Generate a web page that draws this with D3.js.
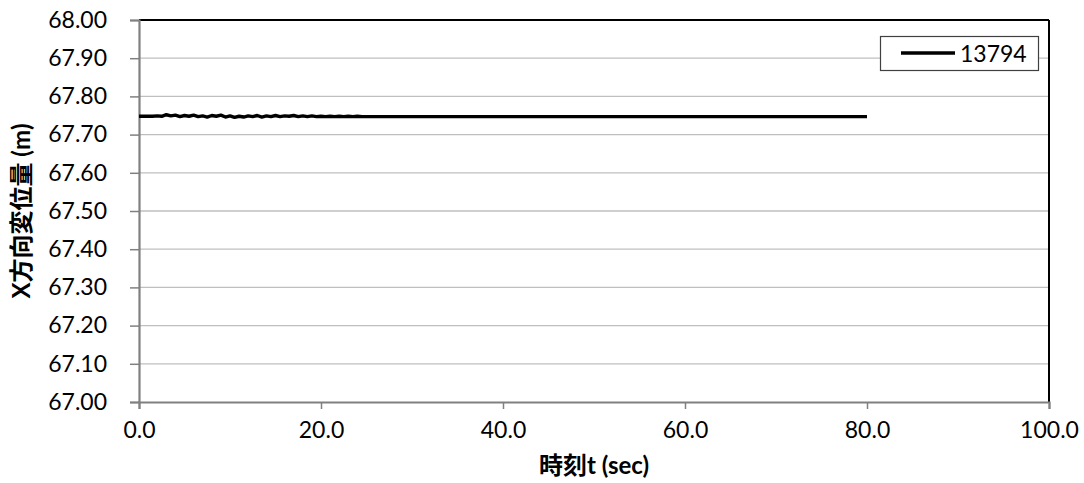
<!DOCTYPE html>
<html>
<head>
<meta charset="utf-8">
<script src="https://cdn.jsdelivr.net/npm/d3@7"></script>
<style>
  html, body { margin: 0; padding: 0; background: #fff; }
  svg { display: block; }
  text { font-family: Lato, "Noto Sans CJK JP", sans-serif; fill: #000; }
</style>
</head>
<body>
<svg id="chart" width="1084" height="483"></svg>
<script>
// ---- data ----
const seriesName = "13794";
const timeSec = [0,0.5,1,1.5,2,2.5,3,3.5,4,4.5,5,5.5,6,6.5,7,7.5,8,8.5,9,9.5,
  10,10.5,11,11.5,12,12.5,13,13.5,14,14.5,15,15.5,16,16.5,17,17.5,18,18.5,19,19.5,
  20,20.5,21,21.5,22,22.5,23,23.5,24,24.5,25,25.5,26,26.5,27,30,40,50,60,70,80];
const dispX = [67.748,67.748,67.748,67.748,67.749,67.748,67.752,67.749,67.751,67.747,
  67.750,67.748,67.751,67.747,67.749,67.746,67.750,67.748,67.751,67.746,
  67.749,67.745,67.748,67.746,67.749,67.747,67.750,67.746,67.749,67.747,
  67.750,67.747,67.749,67.748,67.750,67.747,67.749,67.747,67.749,67.747,
  67.748,67.747,67.748,67.747,67.748,67.747,67.748,67.747,67.748,67.747,
  67.747,67.747,67.747,67.747,67.747,67.747,67.747,67.747,67.747,67.747,67.747];
const xTicks = [0,20,40,60,80,100];
const yTicks = [67.0,67.1,67.2,67.3,67.4,67.5,67.6,67.7,67.8,67.9,68.0];
const xTitle = "時刻t (sec)";
const yTitle = "X方向変位量 (m)";

// ---- layout ----
const L = 139, R = 1049, T = 20, B = 402;
const svg = d3.select("#chart");
const x = d3.scaleLinear().domain([0, 100]).range([L, R]);
const y = d3.scaleLinear().domain([67.0, 68.0]).range([B, T]);

// gridlines
svg.append("g").selectAll("line").data(yTicks.slice(1)).join("line")
  .attr("x1", L).attr("x2", R)
  .attr("y1", d => y(d)).attr("y2", d => y(d))
  .attr("stroke", "#bfbfbf").attr("stroke-width", 1.3);

// top and right borders
svg.append("line").attr("x1", L).attr("x2", R).attr("y1", T).attr("y2", T)
  .attr("stroke", "#000").attr("stroke-width", 2);
svg.append("line").attr("x1", R).attr("x2", R).attr("y1", T).attr("y2", B)
  .attr("stroke", "#000").attr("stroke-width", 2);

// axes
const yAxis = d3.axisLeft(y).tickValues(yTicks).tickSize(9).tickPadding(23)
  .tickFormat(d3.format(".2f"));
const gy = svg.append("g").attr("transform", `translate(${L},0)`).call(yAxis);
gy.select(".domain").attr("stroke", "#808080").attr("stroke-width", 2.2);
gy.selectAll(".tick line").attr("stroke", "#808080").attr("stroke-width", 1.5);
gy.selectAll(".tick text").attr("font-size", 23).attr("font-family", "Lato, sans-serif").attr("fill", "#000");

const xAxis = d3.axisBottom(x).tickValues(xTicks).tickSize(7).tickPadding(13)
  .tickFormat(d3.format(".1f"));
const gx = svg.append("g").attr("transform", `translate(0,${B})`).call(xAxis);
gx.select(".domain").attr("stroke", "#808080").attr("stroke-width", 2.2);
gx.selectAll(".tick line").attr("stroke", "#808080").attr("stroke-width", 1.5);
gx.selectAll(".tick text").attr("font-size", 23).attr("font-family", "Lato, sans-serif").attr("fill", "#000");

// data line
const pts = timeSec.map((t, i) => [t, dispX[i]]);
svg.append("path").datum(pts)
  .attr("fill", "none").attr("stroke", "#000").attr("stroke-width", 3.4)
  .attr("stroke-linejoin", "round")
  .attr("d", d3.line().x(d => x(d[0])).y(d => y(d[1])));

// legend
const lg = svg.append("g");
lg.append("rect").attr("x", 880.5).attr("y", 36.5).attr("width", 158).attr("height", 34)
  .attr("fill", "#fff").attr("stroke", "#404040").attr("stroke-width", 1.2);
lg.append("line").attr("x1", 901).attr("x2", 955).attr("y1", 53).attr("y2", 53)
  .attr("stroke", "#000").attr("stroke-width", 3.5);
lg.append("text").attr("x", 960).attr("y", 62).attr("font-size", 23)
  .attr("font-family", "Lato, sans-serif").text(seriesName);

// titles
svg.append("text").attr("x", (L + R) / 2).attr("y", 474).attr("text-anchor", "middle")
  .attr("font-size", 24).attr("font-weight", "bold").text(xTitle);
svg.append("text").attr("transform", `translate(30,${(T + B) / 2}) rotate(-90)`)
  .attr("text-anchor", "middle").attr("font-size", 24).attr("font-weight", "bold").text(yTitle);
</script>
</body>
</html>
